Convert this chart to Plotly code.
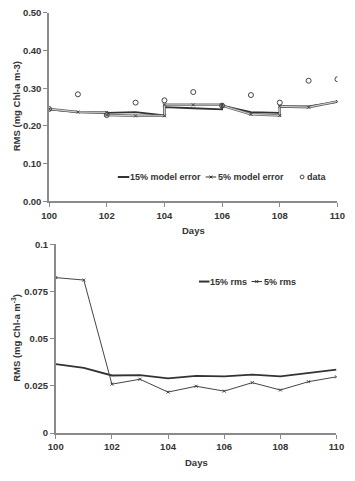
import plotly.graph_objects as go

W, H = 355, 481

# ---- top panel data ----
days_model = [100, 101, 102, 102, 103, 104, 104, 105, 106, 106, 107, 108, 108, 109, 110]
err15 = [0.244, 0.237, 0.235, 0.235, 0.237, 0.228, 0.250, 0.247, 0.244, 0.254, 0.237, 0.235, 0.252, 0.252, 0.264]
err5 = [0.245, 0.237, 0.236, 0.229, 0.227, 0.227, 0.256, 0.256, 0.256, 0.254, 0.231, 0.228, 0.252, 0.250, 0.265]
days_data = [100, 101, 102, 103, 104, 105, 106, 107, 108, 109, 110]
data_vals = [0.245, 0.284, 0.229, 0.262, 0.268, 0.290, 0.254, 0.282, 0.262, 0.320, 0.324]

# ---- bottom panel data ----
days_rms = [100, 101, 102, 103, 104, 105, 106, 107, 108, 109, 110]
rms15 = [0.0365, 0.0345, 0.0305, 0.0307, 0.0290, 0.0303, 0.0300, 0.0310, 0.0300, 0.0317, 0.0336]
rms5 = [0.0824, 0.0811, 0.0259, 0.0285, 0.0217, 0.0248, 0.0222, 0.0267, 0.0228, 0.0272, 0.0298]

top_yticks = [0, 0.1, 0.2, 0.3, 0.4, 0.5]
top_yticklabels = ["0.00", "0.10", "0.20", "0.30", "0.40", "0.50"]
bot_yticks = [0, 0.025, 0.05, 0.075, 0.1]
bot_yticklabels = ["0", "0.025", "0.05", "0.075", "0.1"]
xticks = [100, 102, 104, 106, 108, 110]

top_legend = ["15% model error", "5% model error", "data"]
bot_legend = ["15% rms", "5% rms"]

FONT = "Liberation Sans"
TXT = "#333333"
AX = "#8a8a8a"
FS = 9.5
LFS = 9


def px_x(p):
    return p / W


def px_y(p):
    return 1 - p / H


fig = go.Figure()

# top: 15% model error
fig.add_trace(go.Scatter(x=days_model, y=err15, mode="lines", name=top_legend[0],
                         line=dict(color="#333333", width=1.8), xaxis="x", yaxis="y"))
# top: 5% model error (outlined light line)
fig.add_trace(go.Scatter(x=days_model, y=err5, mode="lines", showlegend=False,
                         line=dict(color="#666666", width=2.5), xaxis="x", yaxis="y", hoverinfo="skip"))
fig.add_trace(go.Scatter(x=days_model, y=err5, mode="lines+markers", name=top_legend[1],
                         line=dict(color="#e0e0e0", width=0.9),
                         marker=dict(symbol="x-thin", size=3, line=dict(color="#444444", width=1), color="#444444"),
                         xaxis="x", yaxis="y"))
# top: data
fig.add_trace(go.Scatter(x=days_data, y=data_vals, mode="markers", name=top_legend[2],
                         marker=dict(symbol="circle-open", size=5, color="#444444", line=dict(width=1)),
                         xaxis="x", yaxis="y"))

# bottom
fig.add_trace(go.Scatter(x=days_rms, y=rms15, mode="lines", name=bot_legend[0],
                         line=dict(color="#333333", width=1.8), xaxis="x2", yaxis="y2"))
fig.add_trace(go.Scatter(x=days_rms, y=rms5, mode="lines+markers", name=bot_legend[1],
                         line=dict(color="#444444", width=1),
                         marker=dict(symbol="x-thin", size=3, line=dict(color="#444444", width=1), color="#444444"),
                         xaxis="x2", yaxis="y2"))

axis_common = dict(showline=True, linecolor=AX, linewidth=1.5, ticks="outside", tickcolor=AX,
                   ticklen=4, tickwidth=1, showgrid=False, zeroline=False,
                   tickfont=dict(family=FONT, size=FS, color=TXT, weight="bold"))

tfont = dict(family=FONT, size=FS, color=TXT, weight="bold")
lfont = dict(family=FONT, size=LFS, color=TXT, weight="bold")

shapes = []
annotations = []


def leg_line(x0, x1, y, width, marker=False):
    shapes.append(dict(type="line", xref="paper", yref="paper", x0=px_x(x0), x1=px_x(x1),
                       y0=px_y(y), y1=px_y(y), line=dict(color="#333333", width=width)))
    if marker:
        cx = (x0 + x1) / 2
        d = 1.5
        path = (f"M {px_x(cx-d)} {px_y(y-d)} L {px_x(cx+d)} {px_y(y+d)} "
                f"M {px_x(cx-d)} {px_y(y+d)} L {px_x(cx+d)} {px_y(y-d)}")
        shapes.append(dict(type="path", xref="paper", yref="paper", path=path,
                           line=dict(color="#333333", width=1)))


def leg_text(x, y, t):
    annotations.append(dict(text=t, x=px_x(x), y=px_y(y), xref="paper", yref="paper",
                            xanchor="left", yanchor="middle", showarrow=False, font=lfont,
                            borderpad=0))


# top legend
ly = 175
leg_line(115, 127, ly, 2)
leg_text(127, ly, top_legend[0])
leg_line(207, 218, ly, 1, marker=True)
leg_text(219, ly, top_legend[1])
shapes.append(dict(type="circle", xref="paper", yref="paper", x0=px_x(306), x1=px_x(310),
                   y0=px_y(173), y1=px_y(177), line=dict(color="#444444", width=1)))
leg_text(312, ly, top_legend[2])

# bottom legend
by = 282
leg_line(200, 211, by, 2)
leg_text(211, by, bot_legend[0])
leg_line(255, 266, by, 1, marker=True)
leg_text(267, by, bot_legend[1])

annotations += [
    dict(text="Days", x=px_x(194), y=px_y(230), xref="paper", yref="paper", showarrow=False,
         xanchor="center", yanchor="middle", font=tfont),
    dict(text="Days", x=px_x(197), y=px_y(467), xref="paper", yref="paper", showarrow=False,
         xanchor="center", yanchor="middle", font=tfont),
    dict(text="RMS (mg Chl-a m-3)", x=px_x(9), y=px_y(103), xref="paper", yref="paper",
         showarrow=False, textangle=-90, xanchor="center", yanchor="middle", font=tfont),
    dict(text="RMS (mg Chl-a m<sup>-3</sup>)", x=px_x(9), y=px_y(340), xref="paper", yref="paper",
         showarrow=False, textangle=-90, xanchor="center", yanchor="middle", font=tfont),
]

fig.update_layout(
    width=W, height=H,
    margin=dict(l=0, r=0, t=0, b=0),
    paper_bgcolor="white", plot_bgcolor="white",
    showlegend=False,
    xaxis=dict(domain=[px_x(43), px_x(345)], range=[100, 110], tickvals=xticks, anchor="y", **axis_common),
    yaxis=dict(domain=[px_y(200), px_y(7)], range=[0, 0.5], tickvals=top_yticks, ticktext=top_yticklabels,
               anchor="x", **axis_common),
    xaxis2=dict(domain=[px_x(50), px_x(344)], range=[100, 110], tickvals=xticks, anchor="y2", **axis_common),
    yaxis2=dict(domain=[px_y(437), px_y(244)], range=[0, 0.1], tickvals=bot_yticks, ticktext=bot_yticklabels,
                anchor="x2", **axis_common),
    shapes=shapes,
    annotations=annotations,
)

fig.write_html("out.html")
